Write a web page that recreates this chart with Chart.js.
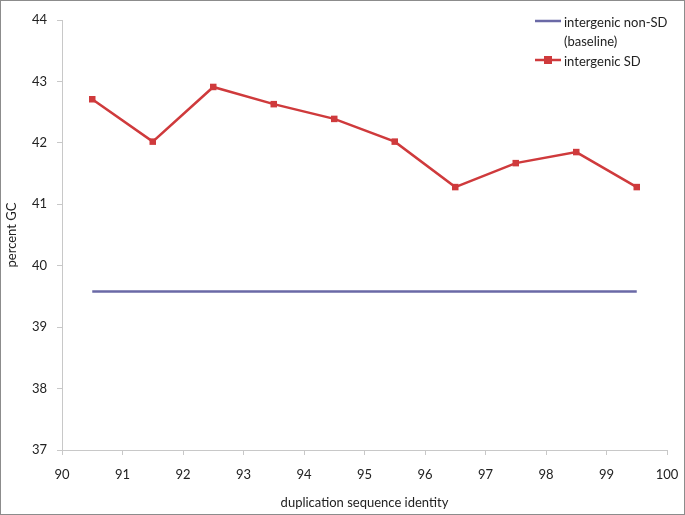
<!DOCTYPE html>
<html>
<head>
<meta charset="utf-8">
<script src="https://cdn.jsdelivr.net/npm/chart.js@4"></script>
<style>
  html, body { margin: 0; padding: 0; background: #fff; }
  #wrap { width: 685px; height: 515px; position: relative; }
</style>
</head>
<body>
<div id="wrap"><canvas id="chart" width="685" height="515"></canvas></div>
<script>
// =============================
// data
// =============================
const identity = [90.5, 91.5, 92.5, 93.5, 94.5, 95.5, 96.5, 97.5, 98.5, 99.5];
const sdGC = [42.71, 42.02, 42.91, 42.63, 42.39, 42.02, 41.28, 41.67, 41.85, 41.28];
const baselineX = [90.5, 99.5];
const baselineGC = [39.58, 39.58];
const seriesNames = [["intergenic non-SD", "(baseline)"], ["intergenic SD"]];
const xTicks = [90, 100];
const yTicks = [37, 44];

const RED = "#cf3a3c";
const BLUE = "#6a69a6";
const FONT = "Lato, 'Open Sans', sans-serif";

// frame + hand drawn legend (multi-line label)
const extras = {
    id: "extras",
    afterDraw(chart) {
        const ctx = chart.ctx;
        ctx.save();
        ctx.strokeStyle = "#8c8c8c";
        ctx.lineWidth = 1;
        ctx.strokeRect(0.5, 0.5, 684, 514);

        ctx.font = "13px " + FONT;
        ctx.fillStyle = "#222";
        ctx.textBaseline = "middle";
        ctx.textAlign = "left";
        const ys = [21, 60];
        chart.data.datasets.forEach((ds, i) => {
            const y = ys[i];
            ctx.strokeStyle = ds.borderColor;
            ctx.lineWidth = 2.5;
            ctx.beginPath();
            ctx.moveTo(535, y);
            ctx.lineTo(561, y);
            ctx.stroke();
            if (ds.pointRadius > 0) {
                ctx.fillStyle = ds.borderColor;
                ctx.fillRect(544, y - 4, 8, 8);
                ctx.fillStyle = "#222";
            }
            seriesNames[i].forEach((line, j) => {
                ctx.fillText(line, 564, y + 2 + j * 19);
            });
        });
        ctx.restore();
    }
};

document.addEventListener("DOMContentLoaded", function () {
    const ctx = document.getElementById("chart");

    new Chart(ctx, {
        type: "line",
        data: {
            datasets: [{
                label: seriesNames[0].join(" "),
                data: baselineX.map((x, i) => ({ x: x, y: baselineGC[i] })),
                borderColor: BLUE,
                backgroundColor: BLUE,
                borderWidth: 2.5,
                pointRadius: 0
            }, {
                label: seriesNames[1].join(" "),
                data: identity.map((x, i) => ({ x: x, y: sdGC[i] })),
                borderColor: RED,
                backgroundColor: RED,
                borderWidth: 2.5,
                pointStyle: "rect",
                pointRadius: 4.6,
                pointBorderWidth: 0,
                tension: 0
            }]
        },
        options: {
            responsive: false,
            animation: false,
            layout: { padding: { top: 20, right: 18, left: 0, bottom: 0 } },
            plugins: {
                legend: { display: false },
                tooltip: { enabled: false }
            },
            scales: {
                x: {
                    type: "linear",
                    min: xTicks[0],
                    max: xTicks[1],
                    ticks: { stepSize: 1, color: "#222", font: { family: FONT, size: 13 }, padding: 12, maxRotation: 0 },
                    grid: { display: true, drawOnChartArea: false, tickLength: 5, color: "#c8c8c8" },
                    border: { color: "#c8c8c8", width: 1 },
                    title: { display: true, text: "duplication sequence identity", color: "#222", font: { family: FONT, size: 13 }, padding: { top: 4 } },
                    afterFit(scale) { scale.height = 65; scale.paddingRight = 0; scale.paddingLeft = 0; }
                },
                y: {
                    min: yTicks[0],
                    max: yTicks[1],
                    ticks: { stepSize: 1, color: "#222", font: { family: FONT, size: 13 }, padding: 10 },
                    grid: { display: true, drawOnChartArea: false, tickLength: 5, color: "#c8c8c8" },
                    border: { color: "#c8c8c8", width: 1 },
                    title: { display: true, text: "percent GC", color: "#222", font: { family: FONT, size: 13 }, padding: { bottom: 0 } },
                    afterFit(scale) { scale.width = 62; }
                }
            }
        },
        plugins: [extras]
    });
});
</script>
</body>
</html>
